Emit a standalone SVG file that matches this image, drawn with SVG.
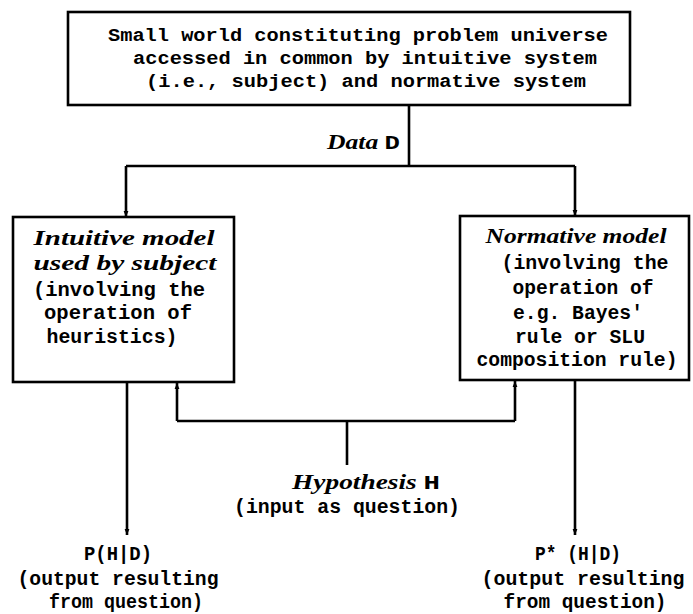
<svg xmlns="http://www.w3.org/2000/svg" width="693" height="614" viewBox="0 0 693 614">
  <style>
    .box { fill: #ffffff; stroke: #000000; stroke-width: 2.6; }
    .wire { fill: none; stroke: #000000; stroke-width: 2.6; }
    .t { font-family: "Liberation Mono", "DejaVu Sans Mono", monospace; font-weight: bold; font-size: 20px; fill: #000000; }
    .s { font-size: 19px; }
    .i { font-family: "Liberation Serif", "DejaVu Serif", serif; font-style: italic; font-weight: bold; font-size: 21px; fill: #000000; }
    .m { text-anchor: middle; }
  </style>
  <defs>
    <marker id="arrow" viewBox="0 0 10 10" refX="10" refY="5" markerWidth="6" markerHeight="6" markerUnits="userSpaceOnUse" orient="auto">
      <path d="M0,1 L10,5 L0,9 Z" fill="#000000"/>
    </marker>
  </defs>
  <rect width="693" height="614" fill="#ffffff"/>

  <!-- connectors -->
  <g id="connectors">
    <!-- data from the problem universe to both models -->
    <path class="wire" d="M409,105 V166"/>
    <path class="wire" d="M126,166 H575"/>
    <path class="wire" d="M126,166 V217" marker-end="url(#arrow)"/>
    <path class="wire" d="M575,166 V216" marker-end="url(#arrow)"/>
    <!-- hypothesis fed into both models -->
    <path class="wire" d="M347,465 V421"/>
    <path class="wire" d="M177,421 H515"/>
    <path class="wire" d="M177,421 V383" marker-end="url(#arrow)"/>
    <path class="wire" d="M515,421 V381" marker-end="url(#arrow)"/>
    <!-- model outputs -->
    <path class="wire" d="M127,382 V535" marker-end="url(#arrow)"/>
    <path class="wire" d="M575,380 V535" marker-end="url(#arrow)"/>
  </g>

  <g id="universe">
    <rect class="box" x="68" y="12" width="562" height="93"/>
    <text class="t s" x="108" y="41" textLength="500" lengthAdjust="spacingAndGlyphs">Small world constituting problem universe</text>
    <text class="t s" x="133" y="64" textLength="464" lengthAdjust="spacingAndGlyphs">accessed in common by intuitive system</text>
    <text class="t s" x="146" y="87" textLength="440" lengthAdjust="spacingAndGlyphs">(i.e., subject) and normative system</text>
  </g>

  <g id="data-label">
    <text class="i" x="327" y="149" textLength="73" lengthAdjust="spacingAndGlyphs">Data <tspan font-family="Liberation Mono, monospace" font-style="normal">D</tspan></text>
  </g>

  <g id="intuitive-model">
    <rect class="box" x="13" y="217" width="221" height="165"/>
    <text class="i m" x="124" y="245" textLength="181" lengthAdjust="spacingAndGlyphs">Intuitive model</text>
    <text class="i m" x="125" y="270" textLength="183" lengthAdjust="spacingAndGlyphs">used by subject</text>
    <text class="t m" x="119" y="296" textLength="172" lengthAdjust="spacingAndGlyphs">(involving the</text>
    <text class="t m" x="118" y="319" textLength="148" lengthAdjust="spacingAndGlyphs">operation of</text>
    <text class="t m" x="112" y="343" textLength="131" lengthAdjust="spacingAndGlyphs">heuristics)</text>
  </g>

  <g id="normative-model">
    <rect class="box" x="460" y="216" width="229" height="164"/>
    <text class="i m" x="576" y="243" textLength="181" lengthAdjust="spacingAndGlyphs">Normative model</text>
    <text class="t m" x="585" y="269" textLength="167" lengthAdjust="spacingAndGlyphs">(involving the</text>
    <text class="t m" x="583" y="294" textLength="141" lengthAdjust="spacingAndGlyphs">operation of</text>
    <text class="t m" x="578" y="319" textLength="130" lengthAdjust="spacingAndGlyphs">e.g. Bayes'</text>
    <text class="t m" x="580" y="343" textLength="130" lengthAdjust="spacingAndGlyphs">rule or SLU</text>
    <text class="t m" x="577" y="366" textLength="201" lengthAdjust="spacingAndGlyphs">composition rule)</text>
  </g>

  <g id="hypothesis">
    <text class="i m" x="366" y="489" textLength="148" lengthAdjust="spacingAndGlyphs">Hypothesis <tspan font-family="Liberation Mono, monospace" font-style="normal">H</tspan></text>
    <text class="t m" x="347" y="513" textLength="226" lengthAdjust="spacingAndGlyphs">(input as question)</text>
  </g>

  <g id="intuitive-output">
    <text class="t m" x="118" y="560" textLength="68" lengthAdjust="spacingAndGlyphs">P(H|D)</text>
    <text class="t m" x="118" y="585" textLength="201" lengthAdjust="spacingAndGlyphs">(output resulting</text>
    <text class="t m" x="126" y="608" textLength="154" lengthAdjust="spacingAndGlyphs">from question)</text>
  </g>

  <g id="normative-output">
    <text class="t m" x="578" y="560" textLength="86" lengthAdjust="spacingAndGlyphs">P* (H|D)</text>
    <text class="t m" x="583" y="585" textLength="203" lengthAdjust="spacingAndGlyphs">(output resulting</text>
    <text class="t m" x="585" y="608" textLength="163" lengthAdjust="spacingAndGlyphs">from question)</text>
  </g>
</svg>
